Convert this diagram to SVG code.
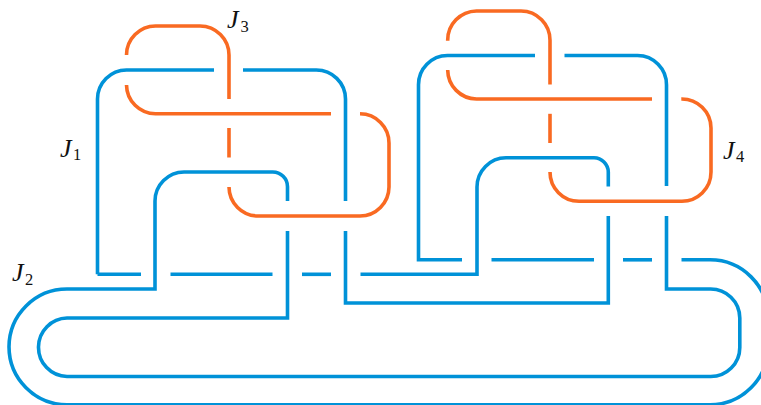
<svg xmlns="http://www.w3.org/2000/svg" width="761" height="405" viewBox="0 0 761 405">
<style>
path{fill:none;stroke-width:3.6;stroke-linecap:butt;stroke-linejoin:miter}
.b path{stroke:#0092d8}
.o path{stroke:#f96a22}
text{font-family:"Liberation Serif","Times New Roman",serif;fill:#111}
.m{font-style:italic;font-size:26px}
.s{font-size:16.500px}
</style>
<rect width="761" height="405" fill="#fff"/>
<g id="connectors">
<g id="J1-link" class="b">
<path d="M97.500 274.300H141"/>
<path d="M170.500 274.300H272.500"/>
<path d="M302 274.300H331"/>
<path d="M360.500 274.300H477V187A29.200 29.200 0 0 1 506 157.800H594A14.600 14.600 0 0 1 608.300 172V186.500"/>
<path d="M608.300 216V303H345.500V231"/>
<path d="M345.500 201V99A29.200 29.200 0 0 0 316 70H243"/>
<path d="M214 70H126.500A29.200 29.200 0 0 0 97.500 99V274.300"/>
</g>
<g id="J2-link" class="b">
<path d="M155 201A29.200 29.200 0 0 1 184 172H272.500A14.800 14.800 0 0 1 287.500 187V201M155 201V289H67A58 58 0 0 0 9 346.800A58 58 0 0 0 67 404.700H710A58 58 0 0 0 768 346.800V318A58 58 0 0 0 710 259.800H681.500"/>
<path d="M287.500 231V318H67A29.200 29.200 0 0 0 38.500 346.800A29.200 29.200 0 0 0 67 376.500H710A29.200 29.200 0 0 0 739.800 346.800V318A29.200 29.200 0 0 0 710 289H666.500V216"/>
<path d="M666.500 186V85A29.200 29.200 0 0 0 637.500 55.500H564.500"/>
<path d="M535 55.500H447.500A29.200 29.200 0 0 0 418.500 85V259.800H462"/>
<path d="M491.500 259.800H594"/>
<path d="M623 259.800H652"/>
</g>
<g id="J3-link" class="o">
<path d="M126.500 55A29.200 29.200 0 0 1 155.500 26H200A29.200 29.200 0 0 1 229 55V99"/>
<path d="M229 128V157.500"/>
<path d="M229 187A29.200 29.200 0 0 0 258 216H360A29.200 29.200 0 0 0 389 187V143A29.200 29.200 0 0 0 360 113.800"/>
<path d="M331 113.800H155.500A29.200 29.200 0 0 1 126.500 85"/>
</g>
<g id="J4-link" class="o">
<path d="M447.700 40.700A29.200 29.200 0 0 1 476.500 11H521A29.200 29.200 0 0 1 550 40.500V84.600"/>
<path d="M550 113.800V143"/>
<path d="M550 172A29.200 29.200 0 0 0 579 201.300H681A29.200 29.200 0 0 0 711 172V128A29.200 29.200 0 0 0 681.300 99"/>
<path d="M652 99H476.500A29.200 29.200 0 0 1 447.700 70"/>
</g>
</g>
<g id="J1"><text x="60" y="157" class="m">J</text><text x="73" y="160" class="s">1</text></g>
<g id="J2"><text x="12" y="281" class="m">J</text><text x="25" y="285" class="s">2</text></g>
<g id="J3"><text x="227" y="28" class="m">J</text><text x="240.500" y="32" class="s">3</text></g>
<g id="J4"><text x="723" y="159" class="m">J</text><text x="736" y="162" class="s">4</text></g>
</svg>
